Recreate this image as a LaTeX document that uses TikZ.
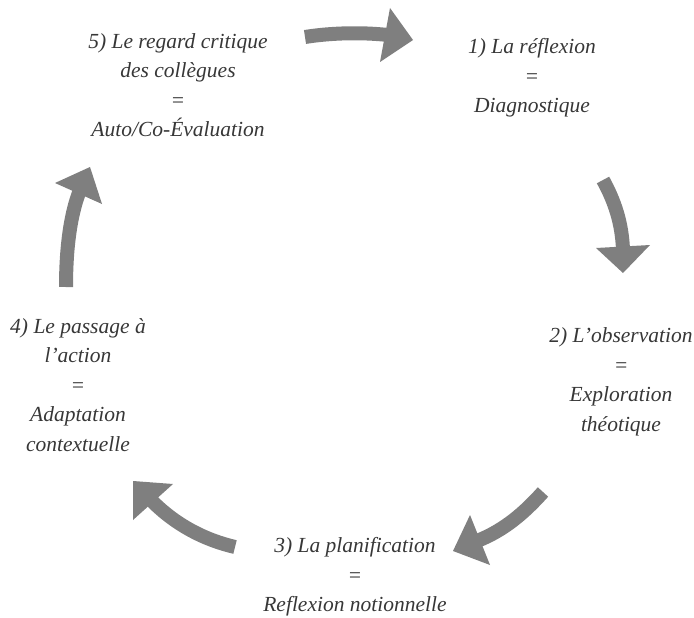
\documentclass[tikz,border=0pt]{standalone}
\usepackage{fontspec}
\setmainfont{Liberation Serif}
\definecolor{txtgray}{RGB}{55,55,55}
\definecolor{arrgray}{RGB}{127,127,127}
\begin{document}
\begin{tikzpicture}[x=1pt,y=-1pt,
  lbl/.style={font=\itshape\fontsize{21.5}{29.5}\selectfont, text=txtgray, align=center, inner sep=0pt},
  shaft/.style={draw=arrgray, line width=14pt},
  head/.style={fill=arrgray, draw=none}]
\useasboundingbox (0,0) rectangle (694,618);

% labels
\node[lbl] (n5) at (178,85) {5) Le regard critique\\des collègues\\=\\Auto/Co-Évaluation};
\node[lbl] (n1) at (532,78) {1) La réflexion\\=\\Diagnostique};
\node[lbl] (n2) at (621,382) {2) L’observation\\=\\Exploration\\théotique};
\node[lbl] (n3) at (355,577) {3) La planification\\=\\Reflexion notionnelle};
\node[lbl] (n4) at (78,385) {4) Le passage à\\l’action\\=\\Adaptation\\contextuelle};

% arrow 5 -> 1
\coordinate (a1) at (305,37);
\coordinate (a2) at (388,35);
\draw[shaft] (a1) .. controls (330,33) and (360,32) .. (a2);
\fill[head] (390,8) -- (413,40) -- (380,62) -- cycle;

% arrow 1 -> 2
\coordinate (b1) at (603,180);
\coordinate (b2) at (623,250);
\draw[shaft] (b1) .. controls (614,200) and (622,222) .. (b2);
\fill[head] (596,248) -- (623,273) -- (650,245) -- cycle;

% arrow 2 -> 3
\coordinate (c1) at (543,492);
\coordinate (c2) at (477,541);
\draw[shaft] (c1) .. controls (525,512) and (505,530) .. (c2);
\fill[head] (470,515) -- (453,551) -- (490,565) -- cycle;

% arrow 3 -> 4
\coordinate (d1) at (235,547);
\coordinate (d2) at (150,499);
\draw[shaft] (d1) .. controls (205,540) and (175,525) .. (d2);
\fill[head] (173,484) -- (133,481) -- (133,520) -- cycle;

% arrow 4 -> 5
\coordinate (e1) at (66,287);
\coordinate (e2) at (80,190);
\draw[shaft] (e1) .. controls (66,250) and (70,215) .. (e2);
\fill[head] (55,183) -- (90,167) -- (102,204) -- cycle;
\end{tikzpicture}
\end{document}
